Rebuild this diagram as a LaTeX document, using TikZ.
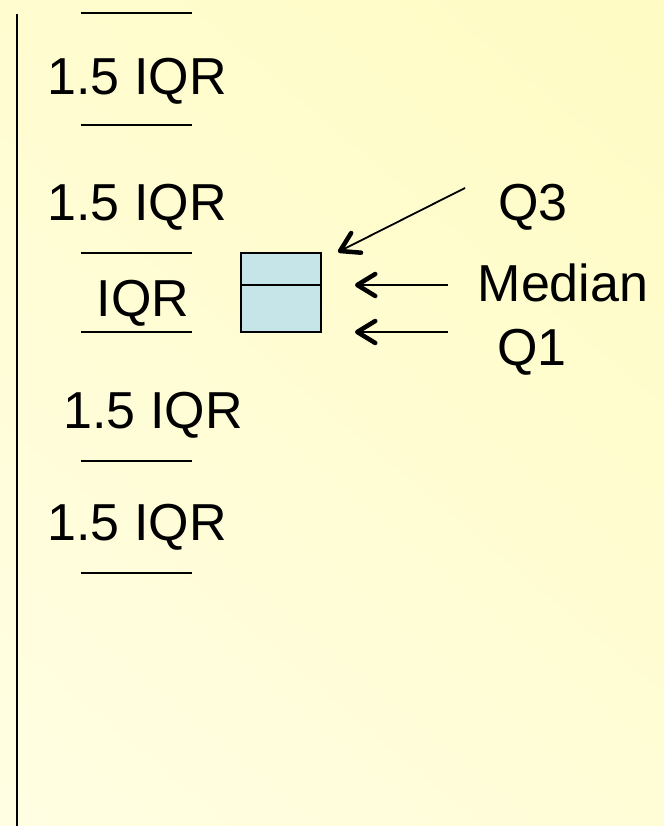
\documentclass[tikz,border=0pt]{standalone}
\usepackage{fontspec}
\setmainfont{Liberation Sans}
\usetikzlibrary{arrows.meta}
\definecolor{bgA}{HTML}{FFFBC2}
\definecolor{bgB}{HTML}{FFFEE4}
\definecolor{boxfill}{HTML}{C5E5E8}
\tikzset{
  lbl/.style={inner sep=0pt, anchor=base, font=\fontsize{52}{60}\selectfont},
  tick/.style={line width=1.6pt},
  arr/.style={line width=1.8pt, -{Straight Barb[length=18pt,width=22pt,line width'=4.5pt,round]}},
}
\begin{document}
\begin{tikzpicture}[x=1pt,y=-1pt]
\useasboundingbox (0,0) rectangle (663,826);
\shade[top color=bgA, bottom color=bgB, shading angle=-40] (-200,-200) rectangle (863,1026);
% axis
\draw[line width=1.6pt] (17,14) -- (17,826);
% tick lines
\foreach \yy/\nm in {13/t1,125/t2,253/t3,332/t4,461/t5,573/t6}{
  \coordinate (\nm a) at (81,\yy);
  \coordinate (\nm b) at (192,\yy);
  \draw[tick] (\nm a) -- (\nm b);
}
% labels
\node[lbl] (l1) at (137,95) {1.5 IQR};
\node[lbl] (l2) at (137,221) {1.5 IQR};
\node[lbl] (l3) at (143,316) {IQR};
\node[lbl] (l4) at (153,428) {1.5 IQR};
\node[lbl] (l5) at (137,540) {1.5 IQR};
% box
\node[draw, line width=1.6pt, fill=boxfill, minimum width=80pt, minimum height=79pt, inner sep=0pt] (box) at (281,292.5) {};
\coordinate (medL) at (241,285);
\coordinate (medR) at (321,285);
\draw[line width=1.2pt] (medL) -- (medR);
% right labels
\node[lbl] (q3) at (533,221) {Q3};
\node[lbl] (med) at (563,301) {Median};
\node[lbl] (q1) at (532,365) {Q1};
% arrows
\coordinate (q3s) at (465,188);
\coordinate (q3e) at (338,252);
\coordinate (meds) at (448,285);
\coordinate (mede) at (355,285);
\coordinate (q1s) at (448,332);
\coordinate (q1e) at (355,332);
\draw[arr] (q3s) -- (q3e);
\draw[arr] (meds) -- (mede);
\draw[arr] (q1s) -- (q1e);
\end{tikzpicture}
\end{document}
